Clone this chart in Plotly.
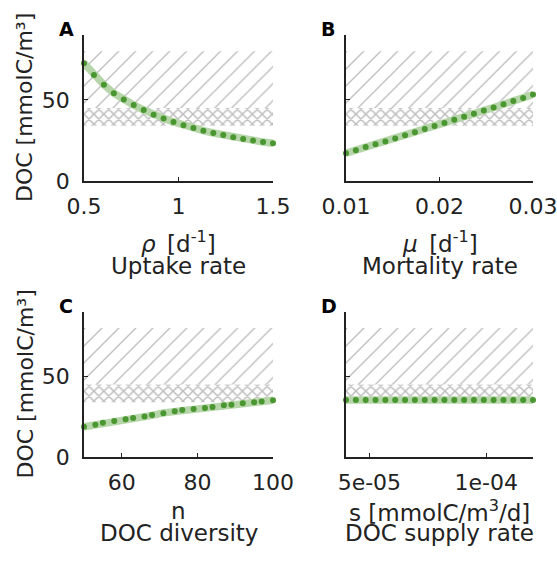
import plotly.graph_objects as go

W, H = 557, 564
FONT = "DejaVu Sans"

# ---------------- data ----------------
rho = [0.5, 0.5526, 0.6053, 0.6579, 0.7105, 0.7632, 0.8158, 0.8684, 0.9211, 0.9737,
       1.0263, 1.0789, 1.1316, 1.1842, 1.2368, 1.2895, 1.3421, 1.3947, 1.4474, 1.5]
doc_rho = [72.6, 65.4, 59.3, 54.1, 50.2, 46.8, 43.8, 40.9, 38.6, 36.4,
           34.4, 32.6, 31.0, 29.6, 28.3, 27.0, 25.9, 24.9, 24.0, 23.2]

mu = [0.01, 0.011053, 0.012105, 0.013158, 0.014211, 0.015263, 0.016316, 0.017368, 0.018421, 0.019474,
      0.020526, 0.021579, 0.022632, 0.023684, 0.024737, 0.025789, 0.026842, 0.027895, 0.028947, 0.03]
doc_mu = [17.1, 18.9, 21.0, 22.6, 24.4, 26.2, 28.2, 30.0, 32.0, 33.9,
          35.8, 37.8, 39.6, 41.5, 43.4, 45.3, 47.3, 49.3, 51.2, 53.3]

n_div = [50, 53, 55, 58, 61, 63, 66, 68, 71, 74, 76, 79, 82, 84, 87, 89, 92, 95, 97, 100]
doc_n = [18.8, 20.0, 21.2, 22.3, 23.4, 24.2, 25.2, 26.1, 27.1, 28.4,
         29.2, 29.8, 30.4, 31.1, 32.1, 32.5, 33.4, 34.0, 34.4, 35.2]
doc_n_band = [18.8, 19.8, 20.8, 21.9, 22.9, 23.8, 24.9, 25.8, 27.4, 28.3,
              29.0, 29.8, 30.5, 31.2, 32.0, 32.6, 33.4, 34.0, 34.5, 35.2]

s_sup = [4.0e-05, 4.421e-05, 4.842e-05, 5.263e-05, 5.684e-05, 6.105e-05, 6.526e-05, 6.947e-05,
         7.368e-05, 7.789e-05, 8.211e-05, 8.632e-05, 9.053e-05, 9.474e-05, 9.895e-05,
         1.0316e-04, 1.0737e-04, 1.1158e-04, 1.1579e-04, 1.2e-04]
doc_s = [35.4] * 20

defaults = [1.0, 0.02, 100, 8e-05]

x_ranges = [[0.5, 1.5], [0.01, 0.03], [50, 100], [4e-05, 1.2e-04]]
x_tickvals = [[0.5, 1, 1.5], [0.01, 0.02, 0.03], [60, 80, 100], [5e-05, 1e-04]]
x_ticktext = [["0.5", "1", "1.5"], ["0.01", "0.02", "0.03"], ["60", "80", "100"], ["5e-05", "1e-04"]]
y_range = [0, 90]
y_tickvals = [0, 50]

obs_wide = [45, 80]   # diagonal hatch range
obs_core = [34, 45]   # cross hatch range

panel_letters = ["A", "B", "C", "D"]
x_sym = ["<i>ρ</i>\u2002[d<sup>-1</sup>]", "<i>μ</i>\u2002[d<sup>-1</sup>]", "n",
         "s [mmolC/m<sup>3</sup>/d]"]
x_names = ["Uptake rate", "Mortality rate", "DOC diversity", "DOC supply rate"]
y_title = "DOC [mmolC/m³]"

xs = [rho, mu, n_div, s_sup]
ys = [doc_rho, doc_mu, doc_n, doc_s]
bands = [doc_rho, doc_mu, doc_n_band, doc_s]

# ---------------- layout geometry (pixels) ----------------
boxes = [(84, 273, 35, 181), (346, 533, 35, 181), (84, 273, 312, 457), (346, 533, 312, 457)]

def fx(p):
    return p / W

def fy(p):
    return 1 - p / H

DOT = "#4a9630"
BAND = "#b6d6a9"
HATCH = "#bdbdbd"
AX = "#222222"
TXT = "#222222"

fig = go.Figure()
layout = dict(
    width=W, height=H, margin=dict(l=0, r=0, t=0, b=0, autoexpand=False),
    paper_bgcolor="white", plot_bgcolor="white", showlegend=False,
    font=dict(family=FONT, size=22, color=TXT),
)
annotations = []

for i in range(4):
    k = "" if i == 0 else str(i + 1)
    xa, ya = "x" + k, "y" + k
    x0, x1, y0, y1 = boxes[i]
    xr = x_ranges[i]

    # hatched observation ranges
    for (lo, hi), shp, sz, sol in [(obs_wide, "/", 12, 0.11), (obs_core, "x", 7, 0.38)]:
        fig.add_trace(go.Scatter(
            x=[xr[0], xr[1], xr[1], xr[0], xr[0]], y=[lo, lo, hi, hi, lo],
            mode="lines", line=dict(width=0), fill="toself",
            fillcolor="rgba(0,0,0,0)",
            fillpattern=dict(shape=shp, size=sz, solidity=sol, fgcolor=HATCH, fillmode="replace"),
            hoverinfo="skip", xaxis=xa, yaxis=ya))

    # band
    fig.add_trace(go.Scatter(x=xs[i], y=bands[i], mode="lines",
                             line=dict(color=BAND, width=7.5), xaxis=xa, yaxis=ya,
                             cliponaxis=False))
    # dots
    fig.add_trace(go.Scatter(x=xs[i], y=ys[i], mode="markers",
                             marker=dict(color=DOT, size=6), xaxis=xa, yaxis=ya,
                             cliponaxis=False))
    # default-value triangle
    fig.add_trace(go.Scatter(x=[defaults[i]], y=[-3.4], mode="markers",
                             marker=dict(symbol="triangle-up", color="black", size=9),
                             xaxis=xa, yaxis=ya, cliponaxis=False))

    layout["xaxis" + k] = dict(
        domain=[fx(x0), fx(x1)], range=xr, anchor=ya, automargin=False,
        showline=True, linecolor=AX, linewidth=1.5, showgrid=False, zeroline=False,
        tickmode="array", tickvals=x_tickvals[i], ticktext=x_ticktext[i],
        ticks="inside", ticklen=4, tickcolor=AX, tickwidth=1,
        ticklabeloverflow="allow",
        ticklabelstandoff=5, tickfont=dict(size=22, family=FONT, color=TXT))
    layout["yaxis" + k] = dict(
        domain=[fy(y1), fy(y0)], range=y_range, anchor=xa, automargin=False,
        showline=True, linecolor=AX, linewidth=1.5, showgrid=False, zeroline=False,
        tickmode="array", tickvals=y_tickvals,
        ticks="inside", ticklen=4, tickcolor=AX, tickwidth=1,
        ticklabeloverflow="allow",
        showticklabels=(i % 2 == 0), ticklabelstandoff=8,
        tickfont=dict(size=22, family=FONT, color=TXT))

    # panel letter
    annotations.append(dict(text="<b>%s</b>" % panel_letters[i], xref="paper", yref="paper",
                            x=fx(x0 - 27), y=fy(y0 - 6), xanchor="left", yanchor="middle",
                            showarrow=False, font=dict(size=19, family=FONT, color="black")))
    # x titles (two lines)
    top = i < 2
    l1 = 242 if top else 511
    l2 = 266 if top else 533
    cx = (x0 + x1) / 2
    annotations.append(dict(text=x_sym[i], xref="paper", yref="paper", x=fx(cx), y=fy(l1),
                            xanchor="center", yanchor="middle", showarrow=False,
                            font=dict(size=23, family=FONT, color=TXT)))
    annotations.append(dict(text=x_names[i], xref="paper", yref="paper", x=fx(cx), y=fy(l2),
                            xanchor="center", yanchor="middle", showarrow=False,
                            font=dict(size=23, family=FONT, color=TXT)))
    if i % 2 == 0:
        annotations.append(dict(text=y_title, xref="paper", yref="paper", x=fx(25),
                                y=fy((y0 + y1) / 2), xanchor="center", yanchor="middle",
                                textangle=-90, showarrow=False,
                                font=dict(size=22, family=FONT, color=TXT)))

layout["annotations"] = annotations
fig.update_layout(**layout)
fig.write_html("out.html", config={"displayModeBar": False},
               post_script="document.body.style.margin='0';document.body.style.overflow='hidden';")
